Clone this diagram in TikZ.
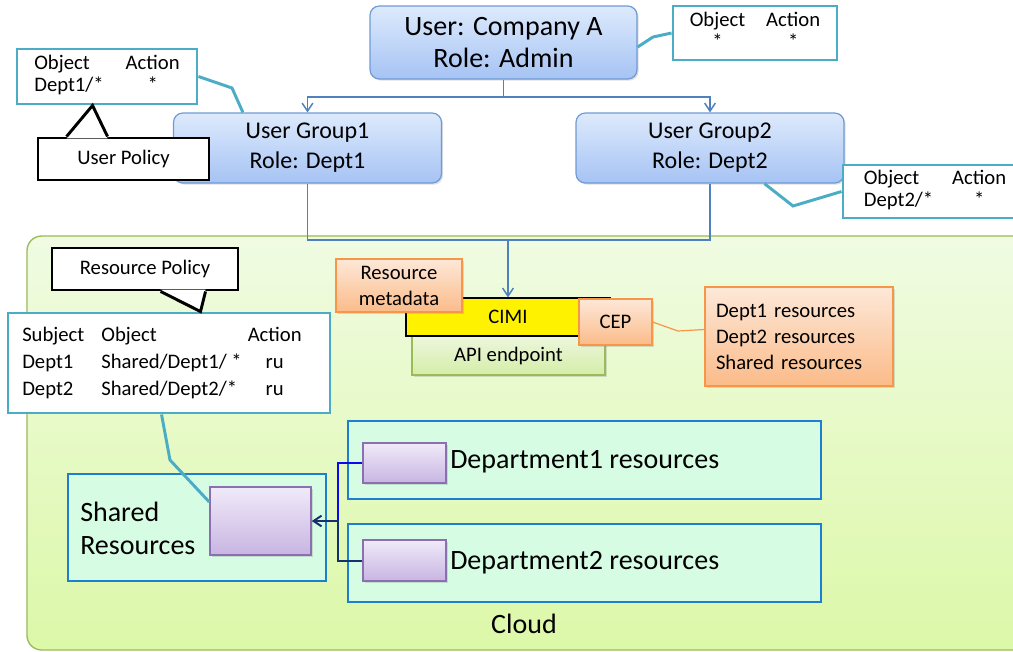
\documentclass[tikz,border=0pt]{standalone}
\usepackage{fontspec}
\setmainfont{Carlito}
\usepackage{xcolor}
\usetikzlibrary{arrows.meta, shadows}

\definecolor{roletop}{HTML}{DDEAFC}
\definecolor{rolebot}{HTML}{A6C3F4}
\definecolor{roleedge}{HTML}{6F9AD6}
\definecolor{polteal}{HTML}{4BACC6}
\definecolor{cloudtop}{HTML}{F0FBE2}
\definecolor{cloudbot}{HTML}{DCF8A8}
\definecolor{cloudedge}{HTML}{9BBB59}
\definecolor{notetop}{HTML}{FDE8D8}
\definecolor{notebot}{HTML}{FBBB89}
\definecolor{noteedge}{HTML}{F79646}
\definecolor{apitop}{HTML}{EDF7DC}
\definecolor{apibot}{HTML}{D4EDA8}
\definecolor{binfill}{HTML}{D6FCE4}
\definecolor{binedge}{HTML}{1E7ECF}
\definecolor{restop}{HTML}{F0EAF9}
\definecolor{resbot}{HTML}{C8B5E2}
\definecolor{resedge}{HTML}{8C6FB0}
\definecolor{linkblue}{HTML}{4F81BD}
\definecolor{deptone}{HTML}{0A0AF0}
\definecolor{depttwo}{HTML}{14306E}

\newcommand{\polfont}{\fontsize{15.5pt}{16.5pt}\selectfont}
\newcommand{\tabfont}{\fontsize{15.5pt}{20pt}\selectfont}
\newcommand{\listfont}{\fontsize{15.5pt}{19.5pt}\selectfont}
\newcommand{\rolefont}{\fontsize{18pt}{22.5pt}\selectfont}
\newcommand{\bossfont}{\fontsize{21pt}{24pt}\selectfont}
\newcommand{\deptfont}{\fontsize{21pt}{24.75pt}\selectfont}

\begin{document}
\begin{tikzpicture}[x=0.75pt, y=-0.75pt,
    lift/.style={drop shadow={opacity=.25, shadow xshift=1.2pt, shadow yshift=-1.2pt}},
    role/.style={lift, draw=roleedge, line width=.9pt, rounded corners=7pt, top color=roletop,
        bottom color=rolebot, align=center, inner sep=0pt, minimum width=201pt,
        minimum height=52.5pt, font=\rolefont},
    rule/.style={draw=polteal, line width=2.2pt, fill=white, inner sep=0pt, font=\polfont},
    talk/.style={draw=black, line width=2.2pt, fill=white, inner sep=0pt, font=\polfont},
    note/.style={lift, draw=noteedge, line width=.9pt, top color=notetop, bottom color=notebot,
        inner sep=0pt, font=\polfont, align=center},
    bin/.style={draw=binedge, line width=1.1pt, fill=binfill, inner sep=0pt,
        minimum width=354.75pt, minimum height=58.5pt},
    res/.style={lift, draw=resedge, line width=1.1pt, top color=restop, bottom color=resbot,
        inner sep=0pt, minimum width=62.25pt, minimum height=30pt},
    link/.style={draw=linkblue, line width=1.1pt},
    tip/.style={-{Straight Barb[length=6pt, width=8pt]}},
    feed/.style={draw=polteal, line width=2.2pt},
    talkline/.style={draw=black, line width=2.2pt, line join=miter}]

    % page frame
    \useasboundingbox (0,0) rectangle (1013,651);
    \fill[white] (0,0) rectangle (1013,651);
    \clip (0,0) rectangle (1013,651);

    % cloud area
    \node[draw=cloudedge, line width=1pt, rounded corners=11pt, top color=cloudtop, bottom color=cloudbot,
          minimum width=759.75pt, minimum height=310.5pt] (cloud) at (533.5,443) {};
    \node[font=\deptfont] (cloudtxt) at (524,624) {Cloud};

    % users and groups
    \node[role, font=\bossfont, minimum width=200.25pt, minimum height=54.75pt] (admin) at (503.5,42.5) {User: Company A\\Role: Admin};
    \node[role] (grpA) at (307.5,148) {User Group1\\Role: Dept1};
    \node[role] (grpB) at (710,148) {User Group2\\Role: Dept2};

    \coordinate (split) at (503.5,97);
    \draw[link, tip] (admin.south) -- (split) -| (grpA.north);
    \draw[link, tip] (split) -| (grpB.north);

    % user policies
    \node[rule, minimum width=123pt, minimum height=40.5pt] (apol) at (755,33)
        {\begin{tabular}{@{}c@{\hspace{15.75pt}}c@{}}Object & Action\\ {*} & {*}\end{tabular}};
    \node[rule, minimum width=135pt, minimum height=41.25pt] (gpolA) at (107,76.5)
        {\begin{tabular}{@{}l@{\hspace{16.5pt}}c@{}}Object & Action\\ Dept1/* & {*}\end{tabular}};
    \node[rule, minimum width=138pt, minimum height=39.75pt] (gpolB) at (935,191.5)
        {\begin{tabular}{@{}l@{\hspace{14.25pt}}c@{}}Object & Action\\ Dept2/* & {*}\end{tabular}};

    \draw[feed] ([yshift=-3.4pt]admin.east) -- (653,37) -- (apol.west);
    \draw[feed] (gpolA.east) -- (232,88) -- ([xshift=52.5pt]grpA.north west);
    \draw[feed] ([xshift=141.75pt]grpB.south west) -- (793,206) -- (gpolB.west);

    % user policy callout
    \node[talk, minimum width=128.25pt, minimum height=31.5pt] (upol) at (123.5,159) {User Policy};
    \coordinate (upL) at ([xshift=22.5pt]upol.north west);
    \coordinate (upR) at ([xshift=53.25pt]upol.north west);
    \coordinate (upT) at ([xshift=57.75pt]gpolA.south west);
    \fill[white] ([yshift=-1.3pt]upL) -- (upT) -- ([yshift=-1.3pt]upR) -- cycle;
    \draw[talkline] (upL) -- (upT) -- (upR);

    % groups to the endpoint
    \coordinate (merge) at (508,240);
    \draw[link] (grpA.south) |- (merge) -| (grpB.south);

    % endpoint
    \node[lift, draw=cloudedge, line width=.9pt, top color=apitop, bottom color=apibot, inner sep=0pt,
          minimum width=144.75pt, minimum height=29.25pt, font=\polfont] (api) at (508.5,355.5) {API endpoint};
    \node[draw=black, line width=.9pt, fill=yellow, inner sep=0pt, minimum width=153pt,
          minimum height=28.5pt, font=\polfont] (cimi) at (508,317) {CIMI};
    \draw[link, tip] (merge) -- (merge |- cimi.north);
    \node[note, minimum width=94.5pt, minimum height=39.75pt, font=\listfont] (meta) at (399,285.5) {Resource\\metadata};
    \node[note, minimum width=54.75pt, minimum height=34.5pt] (cep) at (615.5,322) {CEP};
    \node[note, align=left, text width=124.5pt, minimum width=141pt, minimum height=74.25pt,
          font=\listfont] (dlist) at (799,336.5) {Dept1 resources\\Dept2 resources\\Shared resources};
    \draw[noteedge, line width=.9pt] (cep.east) -- (678,331) -- ([yshift=5.25pt]dlist.west);

    % resource policy
    \node[talk, minimum width=139.5pt, minimum height=31.5pt] (rpol) at (145,269) {Resource Policy};
    \node[rule, font=\tabfont, minimum width=241.5pt, minimum height=75pt] (rtab) at (169,363)
        {\begin{tabular}{@{}l@{\hspace{12.75pt}}l@{\hspace{4.5pt}}c@{\hspace{10.5pt}}}
         Subject & Object & Action\\
         Dept1 & Shared/Dept1/ * & ru\\
         Dept2 & Shared/Dept2/* & ru
         \end{tabular}};
    \coordinate (rpL) at ([xshift=82.5pt]rpol.south west);
    \coordinate (rpR) at ([xshift=116.25pt]rpol.south west);
    \coordinate (rpT) at ([xshift=145.5pt]rtab.north west);
    \fill[white] ([yshift=1.3pt]rpL) -- (rpT) -- ([yshift=1.3pt]rpR) -- cycle;
    \draw[talkline] (rpL) -- (rpT) -- (rpR);

    % resources
    \node[bin] (dptA) at (584.5,460) {};
    \node[bin] (dptB) at (584.5,563) {};
    \node[bin, minimum width=193.5pt, minimum height=80.25pt] (shr) at (197,527.5) {};
    \node[res, minimum width=75.75pt, minimum height=51pt] (sbox) at (260.5,521) {};
    \node[res] (pA) at (404.5,463) {};
    \node[res, minimum height=30.75pt] (pB) at (404.5,560.5) {};

    \node[font=\deptfont, anchor=west, inner sep=0pt] (txtA) at (450,462) {Department1 resources};
    \node[font=\deptfont, anchor=west, inner sep=0pt] (txtB) at (450,563) {Department2 resources};
    \node[font=\deptfont, align=left, anchor=west, inner sep=0pt] (shrtxt) at (80,528.5) {Shared\\Resources};

    \draw[feed] ([xshift=116.25pt]rtab.south west) -- (170,460) -- ([yshift=14.25pt]sbox.west);

    \coordinate (tee) at (338,521);
    \draw[deptone, line width=1.5pt] (pA.west) -| (tee);
    \draw[depttwo, line width=1.5pt, tip] (pB.west) -| (tee) -- (sbox.east);
\end{tikzpicture}
\end{document}
